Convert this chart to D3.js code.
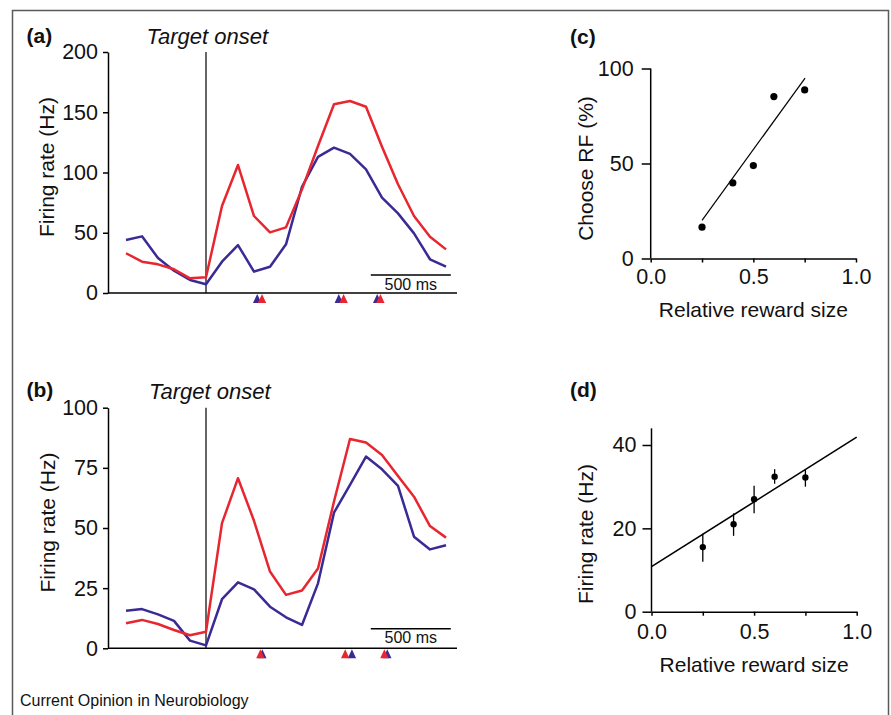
<!DOCTYPE html>
<html>
<head>
<meta charset="utf-8">
<script src="https://cdn.jsdelivr.net/npm/d3@7"></script>
<style>
  body { margin: 0; background: #fff; }
  svg text { font-family: "Liberation Sans", Arial, sans-serif; fill: #111; }
</style>
</head>
<body>
<div id="chart"></div>
<script>
// bin centres (ms from target onset)
var timeMs = [-500, -400, -300, -200, -100, 0, 100, 200, 300, 400, 500, 600, 700, 800, 900, 1000, 1100, 1200, 1300, 1400, 1500];

// panel (a) firing rates, Hz
var aBlue = [44, 47, 29, 18.5, 10.8, 7.2, 26, 39.8, 17.7, 21.8, 40.4, 88.2, 113, 120.6, 115.4, 102.6, 79.1, 66.1, 49.5, 28, 21.8];
var aRed = [33, 26, 23.8, 19.7, 12.2, 13, 72.2, 106.2, 63.9, 50.3, 54.5, 86, 122, 156.6, 159.3, 154.6, 121.4, 90.2, 63.9, 46.7, 36.2];
var aTriBlue = [320, 830, 1070];
var aTriRed = [350, 860, 1090];
var aTicks = [0, 50, 100, 150, 200];

// panel (b) firing rates, Hz
var bBlue = [15.6, 16.3, 14.1, 11.4, 3.2, 1.2, 20.4, 27.4, 24.5, 17.3, 12.9, 9.7, 27, 56.4, 67.9, 79.7, 74.4, 67.5, 46.4, 41.1, 42.8];
var bRed = [10.4, 11.8, 10.1, 7.6, 5.4, 6.9, 52, 70.7, 53, 31.9, 22.2, 24, 33.2, 61, 87, 85.5, 80.3, 71.6, 63, 50.8, 46];
var bTriRed = [340, 870, 1115];
var bTriBlue = [352, 912, 1133];
var bTicks = [0, 25, 50, 75, 100];

// panel (c) choice vs reward
var cX = [0.25, 0.4, 0.5, 0.6, 0.75];
var cY = [16.5, 39.8, 48.9, 85.2, 88.7];
var cFitX = [0.25, 0.752];
var cFitY = [20.1, 94.9];
var cTicks = [0, 50, 100];

// panel (d) firing rate vs reward
var dX = [0.25, 0.4, 0.5, 0.6, 0.75];
var dY = [15.5, 21, 27, 32.4, 32.2];
var dLo = [12, 18.2, 23.6, 30.7, 30];
var dHi = [18.7, 23.6, 30.2, 34.2, 34];
var dFitX = [0, 1];
var dFitY = [10.8, 41.9];
var dTicks = [0, 20, 40];

var rewardTicks = [0, 0.25, 0.5, 0.75, 1];

var RED = "#e8262f", BLUE = "#3a2a96";
var W = 891, H = 715;
var FS = "21px";

var svg = d3.select("#chart").append("svg").attr("width", W).attr("height", H);

// frame
svg.append("path")
    .attr("d", "M12.5,716 V10.5 H888.5 V716")
    .attr("fill", "none").attr("stroke", "#5a5a5a").attr("stroke-width", 1.5);

svg.append("text").attr("x", 20).attr("y", 706)
    .style("font-size", "16px").text("Current Opinion in Neurobiology");

function styleAxis(g) {
    g.selectAll("path, line").attr("stroke", "#000").attr("stroke-width", 1.5);
    g.selectAll("text").style("font-size", "21.5px").attr("fill", "#111");
}

function timePanel(opt) {
    var x = d3.scaleLinear().domain([-612.5, 1568.75]).range([108, 457]);
    var y = d3.scaleLinear().domain([0, opt.ymax]).range([opt.y0, opt.y1]);
    var g = svg.append("g");

    var yAx = g.append("g").attr("transform", "translate(108,0)")
        .call(d3.axisLeft(y).tickValues(opt.ticks).tickSize(5).tickPadding(5).tickSizeOuter(0));
    styleAxis(yAx);
    g.append("line").attr("x1", 108).attr("x2", 457).attr("y1", y(0)).attr("y2", y(0))
        .attr("stroke", "#000").attr("stroke-width", 1.5);

    // target onset
    g.append("line").attr("x1", x(0)).attr("x2", x(0)).attr("y1", y(opt.ymax)).attr("y2", y(0))
        .attr("stroke", "#000").attr("stroke-width", 1.2);

    var line = d3.line().x(function (d, i) { return x(timeMs[i]); }).y(function (d) { return y(d); });
    g.append("path").datum(opt.blue).attr("d", line)
        .attr("fill", "none").attr("stroke", BLUE).attr("stroke-width", 2.5).attr("stroke-linejoin", "round");
    g.append("path").datum(opt.red).attr("d", line)
        .attr("fill", "none").attr("stroke", RED).attr("stroke-width", 2.5).attr("stroke-linejoin", "round");

    // scale bar
    g.append("line").attr("x1", x(1030)).attr("x2", x(1530)).attr("y1", opt.barY).attr("y2", opt.barY)
        .attr("stroke", "#000").attr("stroke-width", 1.5);
    g.append("text").attr("x", (x(1030) + x(1530)) / 2).attr("y", opt.barY + 14.5)
        .attr("text-anchor", "middle").style("font-size", "16px").text("500 ms");

    // saccade markers
    function tri(t) {
        var cx = x(t), top = y(0) + 1;
        return "M" + cx + "," + top + "L" + (cx - 4.2) + "," + (top + 9) + "L" + (cx + 4.2) + "," + (top + 9) + "Z";
    }
    opt.triBack.forEach(function (t) { g.append("path").attr("d", tri(t)).attr("fill", opt.backCol); });
    opt.triFront.forEach(function (t) { g.append("path").attr("d", tri(t)).attr("fill", opt.frontCol); });

    g.append("text").attr("transform", "translate(" + opt.labX + "," + opt.labY + ") rotate(-90)")
        .attr("text-anchor", "middle").style("font-size", FS).text("Firing rate (Hz)");
    g.append("text").attr("x", 26.5).attr("y", opt.letterY)
        .style("font-size", FS).style("font-weight", "bold").text(opt.letter);
    g.append("text").attr("x", opt.onsetX).attr("y", opt.onsetY)
        .style("font-size", "22px").style("font-style", "italic").text("Target onset");
}

timePanel({ ymax: 200, y0: 293, y1: 52, ticks: aTicks, blue: aBlue, red: aRed,
    triBack: aTriBlue, backCol: BLUE, triFront: aTriRed, frontCol: RED,
    barY: 275, labX: 53.5, labY: 167, letter: "(a)", letterY: 42.5, onsetX: 146.5, onsetY: 44 });

timePanel({ ymax: 100, y0: 648.3, y1: 407.7, ticks: bTicks, blue: bBlue, red: bRed,
    triBack: bTriBlue, backCol: BLUE, triFront: bTriRed, frontCol: RED,
    barY: 628.7, labX: 55, labY: 522.5, letter: "(b)", letterY: 396.5, onsetX: 149, onsetY: 399 });

function rewardPanel(opt) {
    var x = d3.scaleLinear().domain([0, 1]).range([opt.x0, opt.x1]);
    var y = d3.scaleLinear().domain([0, opt.ymax]).range([opt.y0, opt.y1]);
    var g = svg.append("g");

    var xAx = g.append("g").attr("transform", "translate(0," + opt.y0 + ")")
        .call(d3.axisBottom(x).tickValues(rewardTicks).tickSize(4).tickPadding(opt.xPad).tickSizeOuter(0)
            .tickFormat(function (d) { return (d === 0.25 || d === 0.75) ? "" : d3.format(".1f")(d); }));
    styleAxis(xAx);
    var yAx = g.append("g").attr("transform", "translate(" + opt.x0 + ",0)")
        .call(d3.axisLeft(y).tickValues(opt.ticks).tickSize(9).tickPadding(opt.yPad).tickSizeOuter(0));
    styleAxis(yAx);
    yAx.select(".domain").attr("d", "M0," + y(opt.axisTop) + "V" + y(0));

    g.append("line").attr("x1", x(opt.fitX[0])).attr("x2", x(opt.fitX[1]))
        .attr("y1", y(opt.fitY[0])).attr("y2", y(opt.fitY[1]))
        .attr("stroke", "#000").attr("stroke-width", opt.fitW);

    if (opt.lo) {
        opt.xs.forEach(function (v, i) {
            g.append("line").attr("x1", x(v)).attr("x2", x(v)).attr("y1", y(opt.lo[i])).attr("y2", y(opt.hi[i]))
                .attr("stroke", "#000").attr("stroke-width", 1.3);
        });
    }
    opt.xs.forEach(function (v, i) {
        g.append("circle").attr("cx", x(v)).attr("cy", y(opt.ys[i])).attr("r", opt.r).attr("fill", "#000");
    });

    g.append("text").attr("x", (opt.x0 + opt.x1) / 2).attr("y", opt.xLabY)
        .attr("text-anchor", "middle").style("font-size", FS).text("Relative reward size");
    g.append("text").attr("transform", "translate(" + opt.labX + "," + opt.labY + ") rotate(-90)")
        .attr("text-anchor", "middle").style("font-size", FS).text(opt.yLabel);
    g.append("text").attr("x", 570).attr("y", opt.letterY)
        .style("font-size", FS).style("font-weight", "bold").text(opt.letter);
}

rewardPanel({ x0: 650.7, x1: 856, y0: 258.5, y1: 68.5, ymax: 100, axisTop: 100, ticks: cTicks,
    xs: cX, ys: cY, fitX: cFitX, fitY: cFitY, fitW: 1.2, r: 3.6, xPad: 6, yPad: 8,
    xLabY: 316.5, labX: 593, labY: 168.5, yLabel: "Choose RF (%)", letter: "(c)", letterY: 44 });

rewardPanel({ x0: 651.5, x1: 856.7, y0: 611.7, y1: 445, ymax: 40, axisTop: 44, ticks: dTicks,
    xs: dX, ys: dY, lo: dLo, hi: dHi, fitX: dFitX, fitY: dFitY, fitW: 1.6, r: 3.2, xPad: 8, yPad: 6,
    xLabY: 671.5, labX: 593, labY: 534, yLabel: "Firing rate (Hz)", letter: "(d)", letterY: 396.5 });
</script>
</body>
</html>
